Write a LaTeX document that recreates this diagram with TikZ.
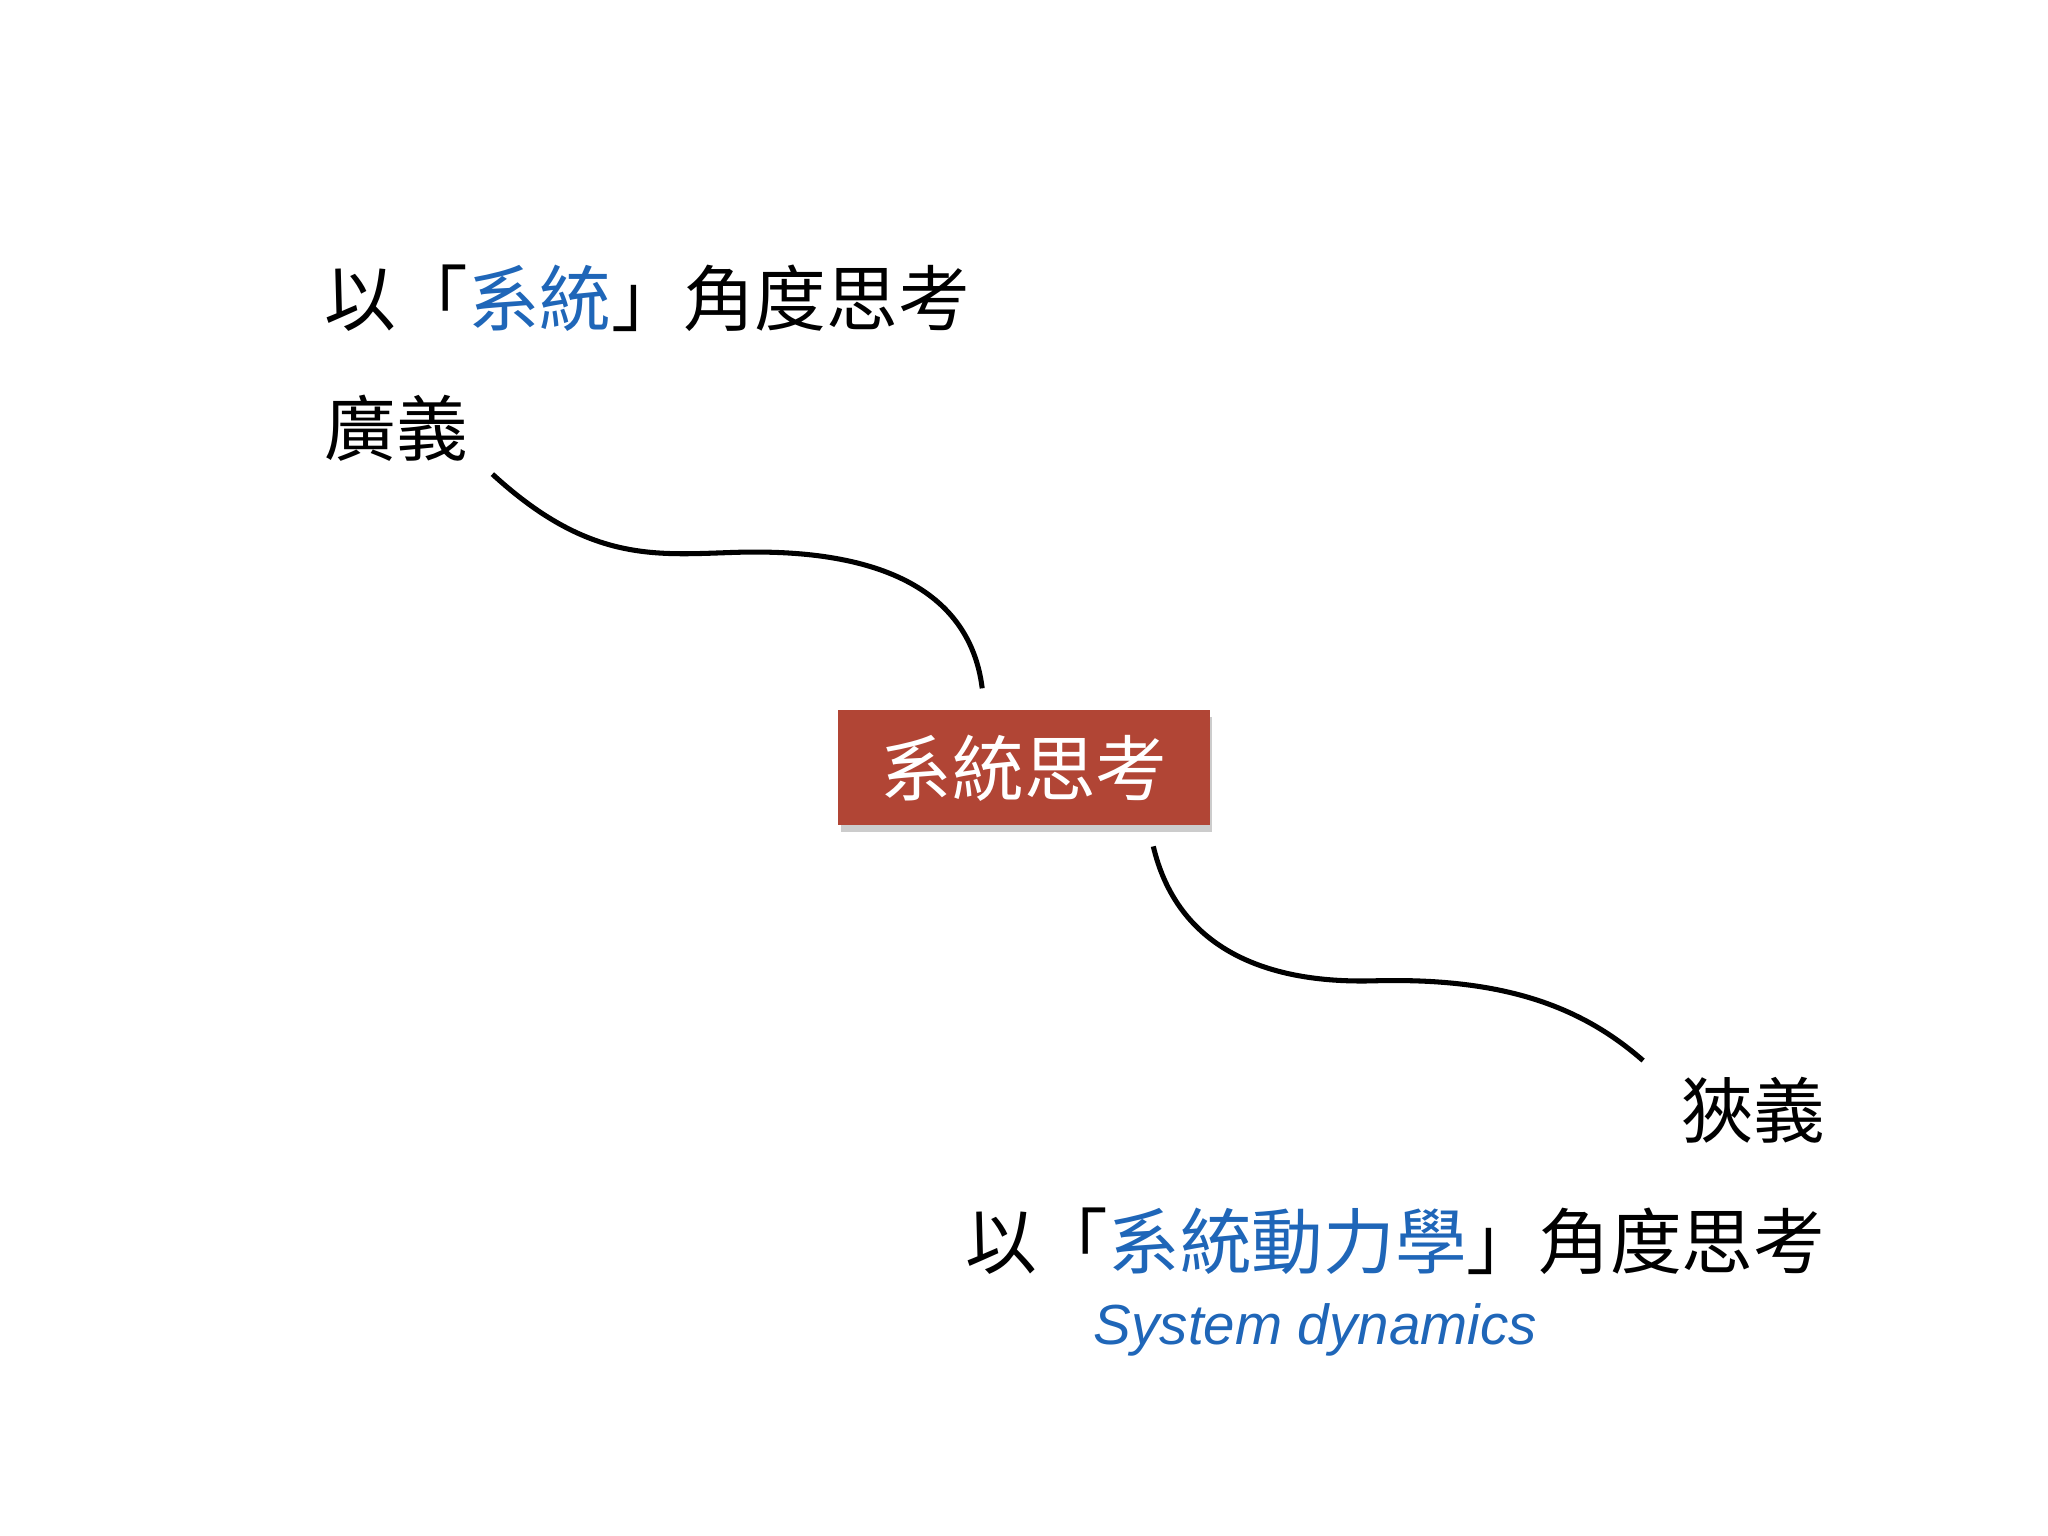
\documentclass[tikz,border=0pt]{standalone}
\usepackage{fontspec}
\setmainfont{Liberation Sans}
\newfontfamily\cjk{Noto Sans CJK TC}
\usetikzlibrary{shadows}
\definecolor{tblue}{HTML}{1F66B8}
\definecolor{tred}{HTML}{B14535}
\begin{document}
\begin{tikzpicture}[x=0.01cm,y=-0.01cm,
  cjkt/.style={inner sep=0pt,font=\cjk\fontsize{15.6}{18}\selectfont},
  curve/.style={line width=1.1pt,black}]
\useasboundingbox (0,0) rectangle (1568,1176);
\node[cjkt,anchor=west] (t1) at (248,228) {以「\textcolor{tblue}{系統}」角度思考};
\node[cjkt,anchor=west] (t2) at (248,328) {廣義};
\coordinate (a1) at (377,363);
\coordinate (a2) at (752,527);
\node[fill=tred,minimum width=2.84cm,inner sep=0pt,
  minimum height=0.88cm,text=white,
  font=\cjk\fontsize{15.6}{18}\selectfont,
  drop shadow={shadow xshift=0.5pt,shadow yshift=-1.5pt,opacity=0.4}] (box) at (784,588) {系統思考};
\coordinate (b1) at (883,648);
\coordinate (b2) at (1258,812);
\draw[curve] (a1) .. controls (450,430) and (500,425) .. (560,423) .. controls (700,418) and (745,470) .. (a2);
\draw[curve] (b1) .. controls (900,720) and (960,753) .. (1050,751) .. controls (1150,748) and (1210,770) .. (b2);
\node[cjkt,anchor=east] (t3) at (1398,850) {狹義};
\node[cjkt,anchor=east] (t4) at (1398,950) {以「\textcolor{tblue}{系統動力學}」角度思考};
\node[inner sep=0pt,text=tblue,font=\itshape\fontsize{12.3}{15}\selectfont] (t5) at (1007,1018) {System dynamics};
\end{tikzpicture}
\end{document}
